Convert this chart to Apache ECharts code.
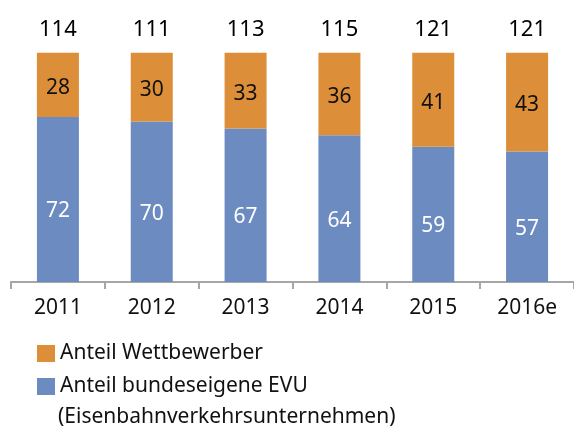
<!DOCTYPE html>
<html>
<head>
<meta charset="utf-8">
<script src="https://cdn.jsdelivr.net/npm/echarts@6/dist/echarts.min.js"></script>
<style>
  html, body { margin: 0; padding: 0; background: #fff; }
  #chart { width: 574px; height: 427px; }
</style>
</head>
<body>
<div id="chart"></div>
<script>
// Jahre (2016 geschätzt)
const years = ['2011', '2012', '2013', '2014', '2015', '2016e'];
// Anteile in Prozent
const shareBund = [72, 70, 67, 64, 59, 57];
const shareWettbewerb = [28, 30, 33, 36, 41, 43];
// Gesamtwerte über den Säulen
const totals = [114, 111, 113, 115, 121, 121];

const nameWett = 'Anteil Wettbewerber';
const nameBund = 'Anteil bundeseigene EVU';

const FONT = 'Noto Sans';
const ORANGE = '#DD8E38';
const BLUE = '#6C8BC1';

const chart = echarts.init(document.getElementById('chart'), null, { renderer: 'canvas' });

chart.setOption({
  animation: false,
  backgroundColor: '#fff',
  textStyle: { fontFamily: FONT },
  grid: { left: 11, right: -7, top: 7, bottom: 145, containLabel: false },
  xAxis: {
    type: 'category',
    data: years,
    axisLine: { lineStyle: { color: '#A6A6A6', width: 2 } },
    axisTick: { show: true, length: 7, lineStyle: { color: '#A6A6A6', width: 2 } },
    axisLabel: { color: '#111', fontSize: 21, fontFamily: FONT, margin: 16 }
  },
  yAxis: {
    type: 'value',
    min: 0,
    max: 120,
    show: false,
    splitLine: { show: false }
  },
  legend: {
    orient: 'vertical',
    left: 32,
    top: 338,
    itemWidth: 18,
    itemHeight: 17,
    itemGap: 12,
    icon: 'rect',
    data: [nameWett, nameBund],
    textStyle: { color: '#111', fontSize: 21, fontFamily: FONT }
  },
  graphic: [{
    type: 'text',
    left: 58,
    top: 407,
    style: {
      text: '(Eisenbahnverkehrsunternehmen)',
      fill: '#111',
      font: '21px "Noto Sans"'
    }
  }],
  series: [
    {
      name: nameBund,
      type: 'bar',
      stack: 'gesamt',
      barWidth: 42,
      data: shareBund,
      itemStyle: { color: BLUE },
      label: {
        show: true,
        position: 'inside',
        offset: [0, 12],
        color: '#fff',
        fontSize: 21,
        fontFamily: FONT
      }
    },
    {
      name: nameWett,
      type: 'bar',
      stack: 'gesamt',
      barWidth: 42,
      data: shareWettbewerb,
      itemStyle: { color: ORANGE },
      label: {
        show: true,
        position: 'inside',
        offset: [0, 3],
        color: '#111',
        fontSize: 21,
        fontFamily: FONT
      }
    },
    {
      name: 'Gesamt',
      type: 'bar',
      stack: 'gesamt',
      barWidth: 42,
      data: totals.map(() => 0),
      itemStyle: { color: 'transparent' },
      label: {
        show: true,
        position: 'top',
        distance: 12,
        color: '#000',
        fontSize: 22,
        fontFamily: FONT,
        formatter: (p) => String(totals[p.dataIndex])
      }
    }
  ]
});
</script>
</body>
</html>
